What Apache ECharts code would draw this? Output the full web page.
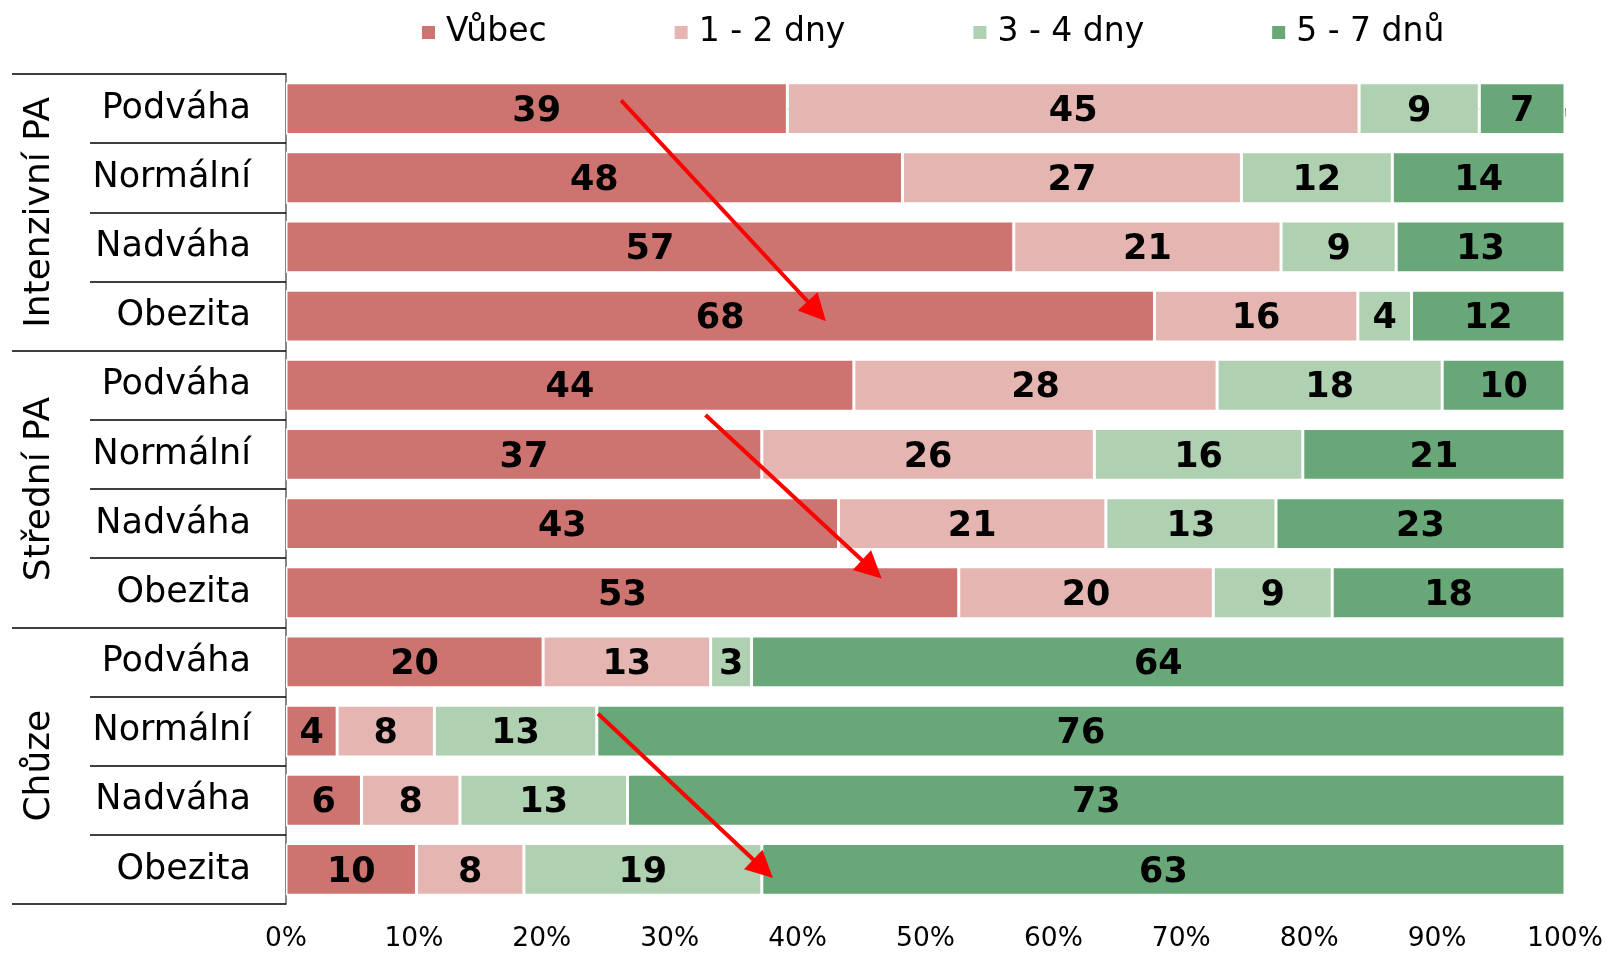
<!DOCTYPE html>
<html>
<head>
<meta charset="utf-8">
<script src="https://cdn.jsdelivr.net/npm/echarts@6/dist/echarts.min.js"></script>
<style>
  html, body { margin: 0; padding: 0; background: #fff; }
</style>
</head>
<body>
<div id="main" style="width: 1608px;height:953px;"></div>
<script type="text/javascript">
    // data (share of respondents, %)
    var groups = ['Intenzivní PA', 'Střední PA', 'Chůze'];
    var weights = ['Podváha', 'Normální', 'Nadváha', 'Obezita'];
    var seriesNames = ['Vůbec', '1 - 2 dny', '3 - 4 dny', '5 - 7 dnů'];
    var colors = ['#cd7370', '#e5b6b1', '#afd1b1', '#68a777'];

    var vubec = [39.2, 48.2, 56.9, 67.9, 44.4, 37.2, 43.2, 52.6, 20.1, 4.0, 5.9, 10.2];
    var dny12 = [44.7, 26.5, 20.9, 15.9, 28.4, 26.0, 20.9, 19.9, 13.1, 7.6, 7.7, 8.4];
    var dny34 = [9.4, 11.8, 9.0, 4.2, 17.6, 16.3, 13.3, 9.3, 3.2, 12.7, 13.1, 18.6];
    var dny57 = [6.7, 13.5, 13.2, 12.0, 9.6, 20.5, 22.6, 18.2, 63.6, 75.7, 73.3, 62.8];

    // red trend arrows: [x %, row position] start -> arrowhead centre
    var arrows = [
        [[26.2, -0.12], [41.5, 2.93]],
        [[32.8, 4.43], [45.8, 6.66]],
        [[24.4, 8.75], [37.3, 10.99]]
    ];

    var xTicks = [0, 10, 20, 30, 40, 50, 60, 70, 80, 90, 100];

    var rows = [];
    groups.forEach(function (g) {
        weights.forEach(function (w) { rows.push(w); });
    });

    var font = 'DejaVu Sans';
    var values = [vubec, dny12, dny34, dny57];

    var series = values.map(function (arr, i) {
        return {
            name: seriesNames[i],
            type: 'bar',
            stack: 'total',
            yAxisIndex: 0,
            barCategoryGap: '25%',
            data: arr,
            itemStyle: { color: colors[i], borderColor: '#fff', borderWidth: 1.5 },
            label: {
                show: true,
                position: 'inside',
                offset: [0, 3],
                color: '#000',
                fontFamily: font,
                fontWeight: 'bold',
                fontSize: 35,
                formatter: function (p) { return Math.round(p.value); }
            },
            emphasis: { disabled: true }
        };
    });

    series.push({
        type: 'lines',
        coordinateSystem: 'cartesian2d',
        xAxisIndex: 0,
        yAxisIndex: 2,
        silent: true,
        z: 10,
        symbol: ['none', 'triangle'],
        symbolSize: [27, 27],
        lineStyle: { color: '#ff0000', width: 4, opacity: 1 },
        data: arrows.map(function (a) { return { coords: a }; })
    });

    var myChart = echarts.init(document.getElementById('main'));

    var option = {
        animation: false,
        textStyle: { fontFamily: font },
        color: colors,
        legend: {
            data: seriesNames,
            left: 415,
            top: 11,
            icon: 'rect',
            itemWidth: 15,
            itemHeight: 15,
            itemGap: 126,
            textStyle: { fontFamily: font, fontSize: 33, color: '#000', padding: [0, 0, 0, 5] }
        },
        grid: { left: 286, right: 43, top: 74, bottom: 47 },
        xAxis: {
            type: 'value',
            min: xTicks[0],
            max: xTicks[xTicks.length - 1],
            interval: 10,
            splitLine: { show: false },
            axisLine: { show: true, lineStyle: { color: '#868686', width: 2 } },
            axisTick: { show: true, length: 8, lineStyle: { color: '#868686', width: 1.5 } },
            axisLabel: { formatter: '{value}%', fontFamily: font, fontSize: 26.5, color: '#000', margin: 22 }
        },
        yAxis: [
            {
                type: 'category',
                data: rows,
                inverse: true,
                axisLine: { show: true, lineStyle: { color: '#868686', width: 2 } },
                axisTick: { show: true, interval: 0, length: 196, lineStyle: { color: '#000', width: 1.5 } },
                axisLabel: { interval: 0, fontFamily: font, fontSize: 35, color: '#000', margin: 35, padding: [5, 0, 0, 0] }
            },
            {
                type: 'category',
                data: groups,
                inverse: true,
                position: 'left',
                axisLine: { show: false },
                axisTick: { show: true, interval: 0, length: 274, lineStyle: { color: '#000', width: 1.5 } },
                axisLabel: { interval: 0, fontFamily: font, fontSize: 36, color: '#000', rotate: 90, margin: 228 }
            },
            {
                type: 'value',
                show: false,
                inverse: true,
                min: -0.5,
                max: rows.length - 0.5
            }
        ],
        series: series
    };

    myChart.setOption(option);
</script>
</body>
</html>
